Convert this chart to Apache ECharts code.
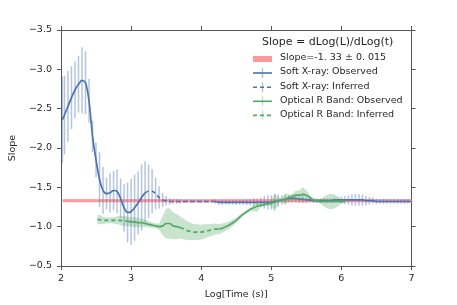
<!DOCTYPE html>
<html><head><meta charset="utf-8">
<script src="https://cdn.jsdelivr.net/npm/echarts@6/dist/echarts.min.js"></script>
<style>html,body{margin:0;padding:0;background:#fff}#c{width:457px;height:305px}</style>
</head><body><div id="c"></div>
<script>
// ---- data ----
const xTicks = [2, 3, 4, 5, 6, 7];
const yTicks = [-3.5, -3.0, -2.5, -2.0, -1.5, -1.0, -0.5];

const refSlope = -1.33, refErr = 0.015;
const refT = [2.03, 7.00];

const blueT = [2.02,2.05,2.10,2.15,2.20,2.25,2.30,2.35,2.40,2.45,2.50,2.55,2.60,2.65,2.70,2.75,2.80,2.85,2.90,2.95,
  3.00,3.05,3.10,3.15,3.20,3.25,3.30,3.35,3.40,3.45,3.50,3.55,3.60,3.65,3.70,3.75,3.80,3.85,3.90,3.95,
  4.00,4.05,4.10,4.15,4.20,4.25,4.30,4.35,4.40,4.45,4.50,4.55,4.60,4.65,4.70,4.75,4.80,4.85,4.90,4.95,
  5.00,5.05,5.10,5.15,5.20,5.25,5.30,5.35,5.40,5.45,5.50,5.55,5.60,5.65,5.70,5.75,5.80,5.85,5.90,5.95,
  6.00,6.05,6.10,6.15,6.20,6.25,6.30,6.35,6.40,6.45,6.50,6.55,6.60,6.65,6.70,6.75,6.80,6.85,6.90,6.95,7.00];
const blueY = [-2.36,-2.42,-2.53,-2.64,-2.74,-2.81,-2.86,-2.83,-2.60,-2.15,-1.85,-1.60,-1.46,-1.42,-1.43,-1.46,-1.45,-1.36,-1.24,-1.18,
  -1.19,-1.24,-1.30,-1.37,-1.43,-1.45,-1.45,-1.42,-1.37,-1.34,-1.33,-1.32,-1.32,-1.32,-1.32,-1.32,-1.32,-1.32,-1.32,-1.32,
  -1.32,-1.32,-1.32,-1.32,-1.32,-1.31,-1.31,-1.31,-1.31,-1.31,-1.31,-1.31,-1.31,-1.31,-1.31,-1.31,-1.31,-1.31,-1.31,-1.31,
  -1.31,-1.32,-1.33,-1.34,-1.35,-1.36,-1.36,-1.36,-1.35,-1.35,-1.34,-1.34,-1.33,-1.33,-1.33,-1.33,-1.33,-1.33,-1.34,-1.34,
  -1.34,-1.34,-1.34,-1.34,-1.34,-1.34,-1.34,-1.33,-1.33,-1.33,-1.32,-1.32,-1.32,-1.32,-1.32,-1.32,-1.32,-1.32,-1.32,-1.32,-1.32];
const blueErr = [0.55,0.50,0.45,0.40,0.36,0.36,0.42,0.40,0.28,0.20,0.22,0.35,0.30,0.20,0.25,0.25,0.28,0.25,0.30,0.38,
  0.42,0.42,0.40,0.42,0.40,0.34,0.28,0.20,0.14,0.09,0.06,0.04,0.03,0.03,0.025,0.02,0.02,0.02,0.02,0.02,
  0.02,0.02,0.02,0.02,0.03,0.03,0.03,0.03,0.03,0.03,0.03,0.03,0.03,0.035,0.04,0.05,0.05,0.06,0.08,0.09,
  0.09,0.09,0.08,0.06,0.05,0.05,0.05,0.05,0.05,0.05,0.04,0.03,0.03,0.03,0.03,0.03,0.03,0.03,0.03,0.03,
  0.04,0.05,0.06,0.07,0.075,0.075,0.07,0.06,0.05,0.04,0.035,0.03,0.03,0.03,0.03,0.03,0.03,0.03,0.03,0.03,0.03];
const blueInferred = [[3.20, 4.20]];

const greenT = [2.52,2.55,2.60,2.65,2.70,2.75,2.80,2.85,2.90,2.95,
  3.00,3.05,3.10,3.15,3.20,3.25,3.30,3.35,3.40,3.45,3.50,3.55,3.60,3.65,3.70,3.75,3.80,3.85,3.90,3.95,
  4.00,4.05,4.10,4.15,4.20,4.25,4.30,4.35,4.40,4.45,4.50,4.55,4.60,4.65,4.70,4.75,4.80,4.85,4.90,4.95,
  5.00,5.05,5.10,5.15,5.20,5.25,5.30,5.35,5.40,5.45,5.50,5.55,5.60,5.65,5.70,5.75,5.80,5.85,5.90,5.95,
  6.00,6.05];
const greenY = [-1.09,-1.09,-1.08,-1.08,-1.08,-1.08,-1.08,-1.08,-1.07,-1.07,
  -1.06,-1.06,-1.05,-1.05,-1.04,-1.03,-1.02,-1.01,-1.00,-1.01,-1.04,-1.04,-1.01,-1.00,-0.99,-0.97,-0.95,-0.94,-0.93,-0.93,
  -0.93,-0.94,-0.95,-0.96,-0.97,-0.97,-0.98,-1.00,-1.02,-1.05,-1.08,-1.12,-1.16,-1.19,-1.22,-1.24,-1.26,-1.27,-1.28,-1.29,
  -1.30,-1.31,-1.33,-1.34,-1.35,-1.37,-1.38,-1.40,-1.40,-1.41,-1.40,-1.37,-1.34,-1.33,-1.32,-1.32,-1.32,-1.32,-1.32,-1.32,
  -1.32,-1.32];
const greenErr = [0.06,0.06,0.045,0.035,0.035,0.04,0.05,0.06,0.065,0.06,
  0.06,0.065,0.06,0.05,0.045,0.04,0.035,0.03,0.04,0.12,0.19,0.19,0.17,0.16,0.14,0.13,0.12,0.11,0.10,0.10,
  0.095,0.09,0.08,0.075,0.07,0.065,0.06,0.05,0.05,0.04,0.03,0.03,0.02,0.02,0.02,0.04,0.07,0.02,0.02,0.02,
  0.04,0.12,0.04,0.02,0.08,0.03,0.04,0.06,0.06,0.09,0.06,0.03,0.02,0.02,0.03,0.06,0.09,0.10,0.09,0.06,
  0.03,0.02];
const greenInferred = [[2.52, 2.95], [3.70, 4.25]];

const legendTitle = 'Slope = dLog(L)/dLog(t)';
const legendLabels = ['Slope=-1. 33 \u00b1 0. 015', 'Soft X-ray: Observed', 'Soft X-ray: Inferred',
  'Optical R Band: Observed', 'Optical R Band: Inferred'];

// ---- styles ----
const BLUE = '#4c72b0', GREEN = '#55a868', RED = '#ff9a9a';
const BLUE_ERR = 'rgba(76,114,176,0.42)', GREEN_ERR = 'rgba(85,168,104,0.32)';
const FONT = 'DejaVu Sans', TXT = '#262626', AX = '#555';

function inRanges(t, ranges){ return ranges.some(r => t >= r[0]-1e-9 && t <= r[1]+1e-9); }
function split(T, Y, ranges){
  const obs = [], inf = [];
  for (let i = 0; i < T.length; i++){
    const isInf = inRanges(T[i], ranges);
    const isObs = !isInf || ranges.some(r => Math.abs(T[i]-r[0])<1e-9 || Math.abs(T[i]-r[1])<1e-9);
    obs.push([T[i], isObs ? Y[i] : '-']);
    inf.push([T[i], isInf ? Y[i] : '-']);
  }
  return [obs, inf];
}
const [blueObs, blueInf] = split(blueT, blueY, blueInferred);
const [greenObs, greenInf] = split(greenT, greenY, greenInferred);

function bandSeries(T, Y, E, fill, stroke, lw, z){
  return {
    type: 'custom', silent: true, z: z, clip: true,
    data: T.map((t,i) => [t, Y[i]-E[i], Y[i]+E[i]]),
    encode: {x: 0, y: [1, 2]},
    renderItem: (params, api) => {
      if (params.dataIndex !== 0) return {type: 'group', children: []};
      const top = T.map((t,i) => api.coord([t, Y[i]-E[i]]));
      const bot = T.map((t,i) => api.coord([t, Y[i]+E[i]])).reverse();
      return {type: 'polygon', shape: {points: top.concat(bot)},
        style: {fill: fill, stroke: stroke || null, lineWidth: stroke ? lw : 0}};
    }
  };
}

const axisCommon = {
  axisLine: {show: true, lineStyle: {color: AX, width: 1}},
  axisTick: {show: true, inside: false, length: 4, lineStyle: {color: AX}},
  splitLine: {show: false}
};
const yFmt = v => (v < 0 ? '\u2212' : '') + Math.abs(v).toFixed(1);

const graphic = [];
graphic.push({type: 'text', left: 262, top: 37, style: {text: legendTitle, font: '11px ' + FONT, fill: TXT}});
const rowY = [59, 73, 87.2, 101.3, 115.4];
const hx0 = 253, hx1 = 272, hxm = 262.5, tx = 280;
legendLabels.forEach((lab, i) => {
  const y = rowY[i];
  graphic.push({type: 'text', left: tx, top: y - 6, style: {text: lab, font: '9.5px ' + FONT, fill: TXT}});
  if (i === 0) {
    graphic.push({type: 'rect', shape: {x: hx0, y: y - 3, width: hx1 - hx0, height: 6}, style: {fill: RED}});
  } else {
    const c = i <= 2 ? BLUE : GREEN;
    const ce = i <= 2 ? BLUE_ERR : GREEN_ERR;
    const dashed = (i === 2 || i === 4);
    graphic.push({type: 'line', shape: {x1: hxm, y1: y - 5, x2: hxm, y2: y + 5}, style: {stroke: ce, lineWidth: 1.5}});
    graphic.push({type: 'line', shape: {x1: hx0, y1: y, x2: hx1, y2: y},
      style: {stroke: c, lineWidth: 1.6, lineDash: dashed ? [4, 3] : null}});
  }
});

const option = {
  animation: false,
  backgroundColor: '#fff',
  textStyle: {fontFamily: FONT},
  grid: {left: 57, right: 45.5, top: 30, bottom: 38.5},
  xAxis: [
    Object.assign({type: 'value', min: 2, max: 7, interval: 1, position: 'bottom',
      name: 'Log[Time (s)]', nameLocation: 'middle', nameGap: 24,
      nameTextStyle: {fontSize: 9.5, color: TXT, fontFamily: FONT},
      axisLabel: {fontSize: 9.5, color: TXT, margin: 8, fontFamily: FONT}}, axisCommon),
    Object.assign({type: 'value', min: 2, max: 7, interval: 1, position: 'top',
      axisLabel: {show: false}}, axisCommon)
  ],
  yAxis: [
    Object.assign({type: 'value', min: -3.5, max: -0.5, interval: 0.5, inverse: true, position: 'left',
      name: 'Slope', nameLocation: 'middle', nameGap: 32, nameRotate: 90,
      nameTextStyle: {fontSize: 9.5, color: TXT, fontFamily: FONT},
      axisLabel: {fontSize: 9.5, color: TXT, margin: 9, formatter: yFmt, fontFamily: FONT}}, axisCommon),
    Object.assign({type: 'value', min: -3.5, max: -0.5, interval: 0.5, inverse: true, position: 'right',
      axisLabel: {show: false}}, axisCommon)
  ],
  graphic: graphic,
  series: [
    bandSeries(refT, [refSlope, refSlope], [refErr, refErr], RED, RED, 0.8, 1),
    {
      type: 'custom', silent: true, z: 2,
      data: blueT.map((t,i) => [t, blueY[i]-blueErr[i], blueY[i]+blueErr[i]]),
      encode: {x: 0, y: [1, 2]},
      renderItem: (params, api) => {
        const p0 = api.coord([api.value(0), api.value(1)]);
        const p1 = api.coord([api.value(0), api.value(2)]);
        return {type: 'line', shape: {x1: p0[0], y1: p0[1], x2: p1[0], y2: p1[1]},
          style: {stroke: BLUE_ERR, lineWidth: 1.5}};
      }
    },
    {type: 'line', data: blueObs, showSymbol: false, symbol: 'none', smooth: 0.3, connectNulls: false,
      lineStyle: {color: BLUE, width: 1.7}, z: 3, silent: true},
    {type: 'line', data: blueInf, showSymbol: false, symbol: 'none', smooth: 0.3, connectNulls: false,
      lineStyle: {color: BLUE, width: 1.7, type: [4, 3]}, z: 3, silent: true},
    bandSeries(greenT, greenY, greenErr, GREEN_ERR, null, 0, 4),
    {type: 'line', data: greenObs, showSymbol: false, symbol: 'none', smooth: 0.3, connectNulls: false,
      lineStyle: {color: GREEN, width: 1.7}, z: 5, silent: true},
    {type: 'line', data: greenInf, showSymbol: false, symbol: 'none', smooth: 0.3, connectNulls: false,
      lineStyle: {color: GREEN, width: 1.7, type: [4, 3]}, z: 5, silent: true}
  ]
};
const chart = echarts.init(document.getElementById('c'), null, {renderer: 'canvas'});
chart.setOption(option);
</script></body></html>
